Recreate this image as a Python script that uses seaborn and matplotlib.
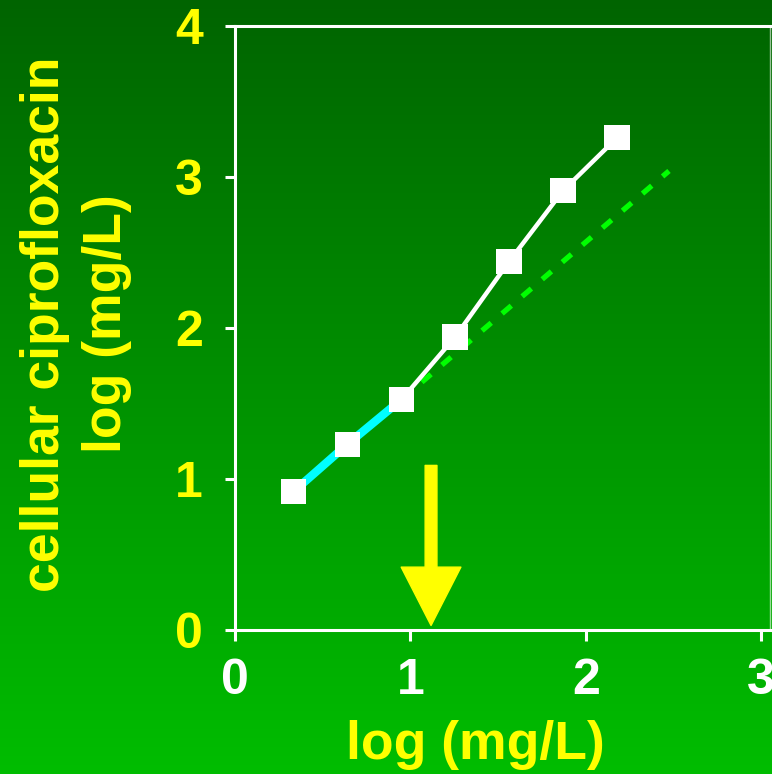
import numpy as np
import seaborn as sns
import matplotlib.pyplot as plt
from matplotlib.colors import LinearSegmentedColormap

# measured points (log extracellular vs log cellular concentration)
x_log = [0.333, 0.641, 0.951, 1.255, 1.563, 1.871, 2.179]
y_log = [0.916, 1.23, 1.528, 1.94, 2.44, 2.91, 3.26]
n_linear = 3  # first points on the linear (cyan) part

# extrapolation of the linear part
x_extra = [0.951, 2.475]
y_extra = [1.528, 3.04]

# arrow marking the saturation threshold
arrow_x = 1.118
arrow_y = [1.09, 0.03]

x_ticks = [0, 1, 2, 3]
y_ticks = [0, 1, 2, 3, 4]
x_label = "log (mg/L)"
y_label = "cellular ciprofloxacin\nlog (mg/L)"

sns.set_style("ticks")
plt.rcParams['font.family'] = ['Liberation Sans', 'DejaVu Sans']
plt.rcParams['font.weight'] = 'bold'

fig = plt.figure(figsize=(7.72, 7.74), dpi=100)

# green gradient background
bg = fig.add_axes([0, 0, 1, 1])
grad_cmap = LinearSegmentedColormap.from_list("bg", ["#00bd00", "#006400"])
bg.imshow(np.linspace(0, 1, 256).reshape(-1, 1)[::-1], aspect='auto',
          cmap=grad_cmap, extent=[0, 1, 0, 1])
bg.axis('off')

ax = fig.add_axes([235 / 772, 144 / 774, 535 / 772, 604 / 774])
ax.patch.set_alpha(0)

# linear part (cyan), then saturation part (white)
sns.lineplot(x=x_log[:n_linear], y=y_log[:n_linear], ax=ax, color='#00ffff',
             lw=6, zorder=3)
sns.lineplot(x=x_log[n_linear - 1:], y=y_log[n_linear - 1:], ax=ax,
             color='white', lw=3.2, zorder=3)
sns.lineplot(x=x_extra, y=y_extra, ax=ax, color='#00ff00', lw=3.8,
             zorder=2)
ax.lines[-1].set_dashes([2.3, 2.7])
sns.scatterplot(x=x_log, y=y_log, ax=ax, marker='s', s=330, color='white',
                edgecolor='none', zorder=4)

ax.annotate('', xy=(arrow_x, arrow_y[1]), xytext=(arrow_x, arrow_y[0]),
            arrowprops=dict(arrowstyle='simple,head_length=4.2,head_width=4.3,tail_width=0.85',
                            color='yellow', shrinkA=0, shrinkB=0),
            zorder=5)

ax.set_xlim(0, 3.051)
ax.set_ylim(0, 4)
ax.set_xticks(x_ticks)
ax.set_yticks(y_ticks)

for side in ['left', 'bottom', 'top']:
    ax.spines[side].set_color('white')
    ax.spines[side].set_linewidth(2.2)
ax.spines['right'].set_color('white')
ax.spines['right'].set_linewidth(1)
ax.spines['right'].set_alpha(0.6)

ax.tick_params(axis='x', colors='white', labelsize=36, width=2.2, length=8,
               pad=12, direction='out')
ax.tick_params(axis='y', colors='white', labelcolor='yellow', labelsize=36,
               width=2.2, length=7, pad=16, direction='out')
for lab in ax.get_xticklabels() + ax.get_yticklabels():
    lab.set_fontweight('bold')

ax.set_xlabel(x_label, color='yellow', fontsize=38.5, fontweight='bold')
ax.xaxis.set_label_coords((475 - 235) / 535, -(745 - 630) / 604)
ax.xaxis.label.set_va('center')

ax.set_ylabel(y_label, color='yellow', fontsize=38.5, fontweight='bold',
              linespacing=1.3, va='center', ha='center',
              rotation_mode='default')
ax.yaxis.set_label_coords((76 - 235) / 535, (630 - 324) / 604)

fig.savefig("out.png", dpi=100)
